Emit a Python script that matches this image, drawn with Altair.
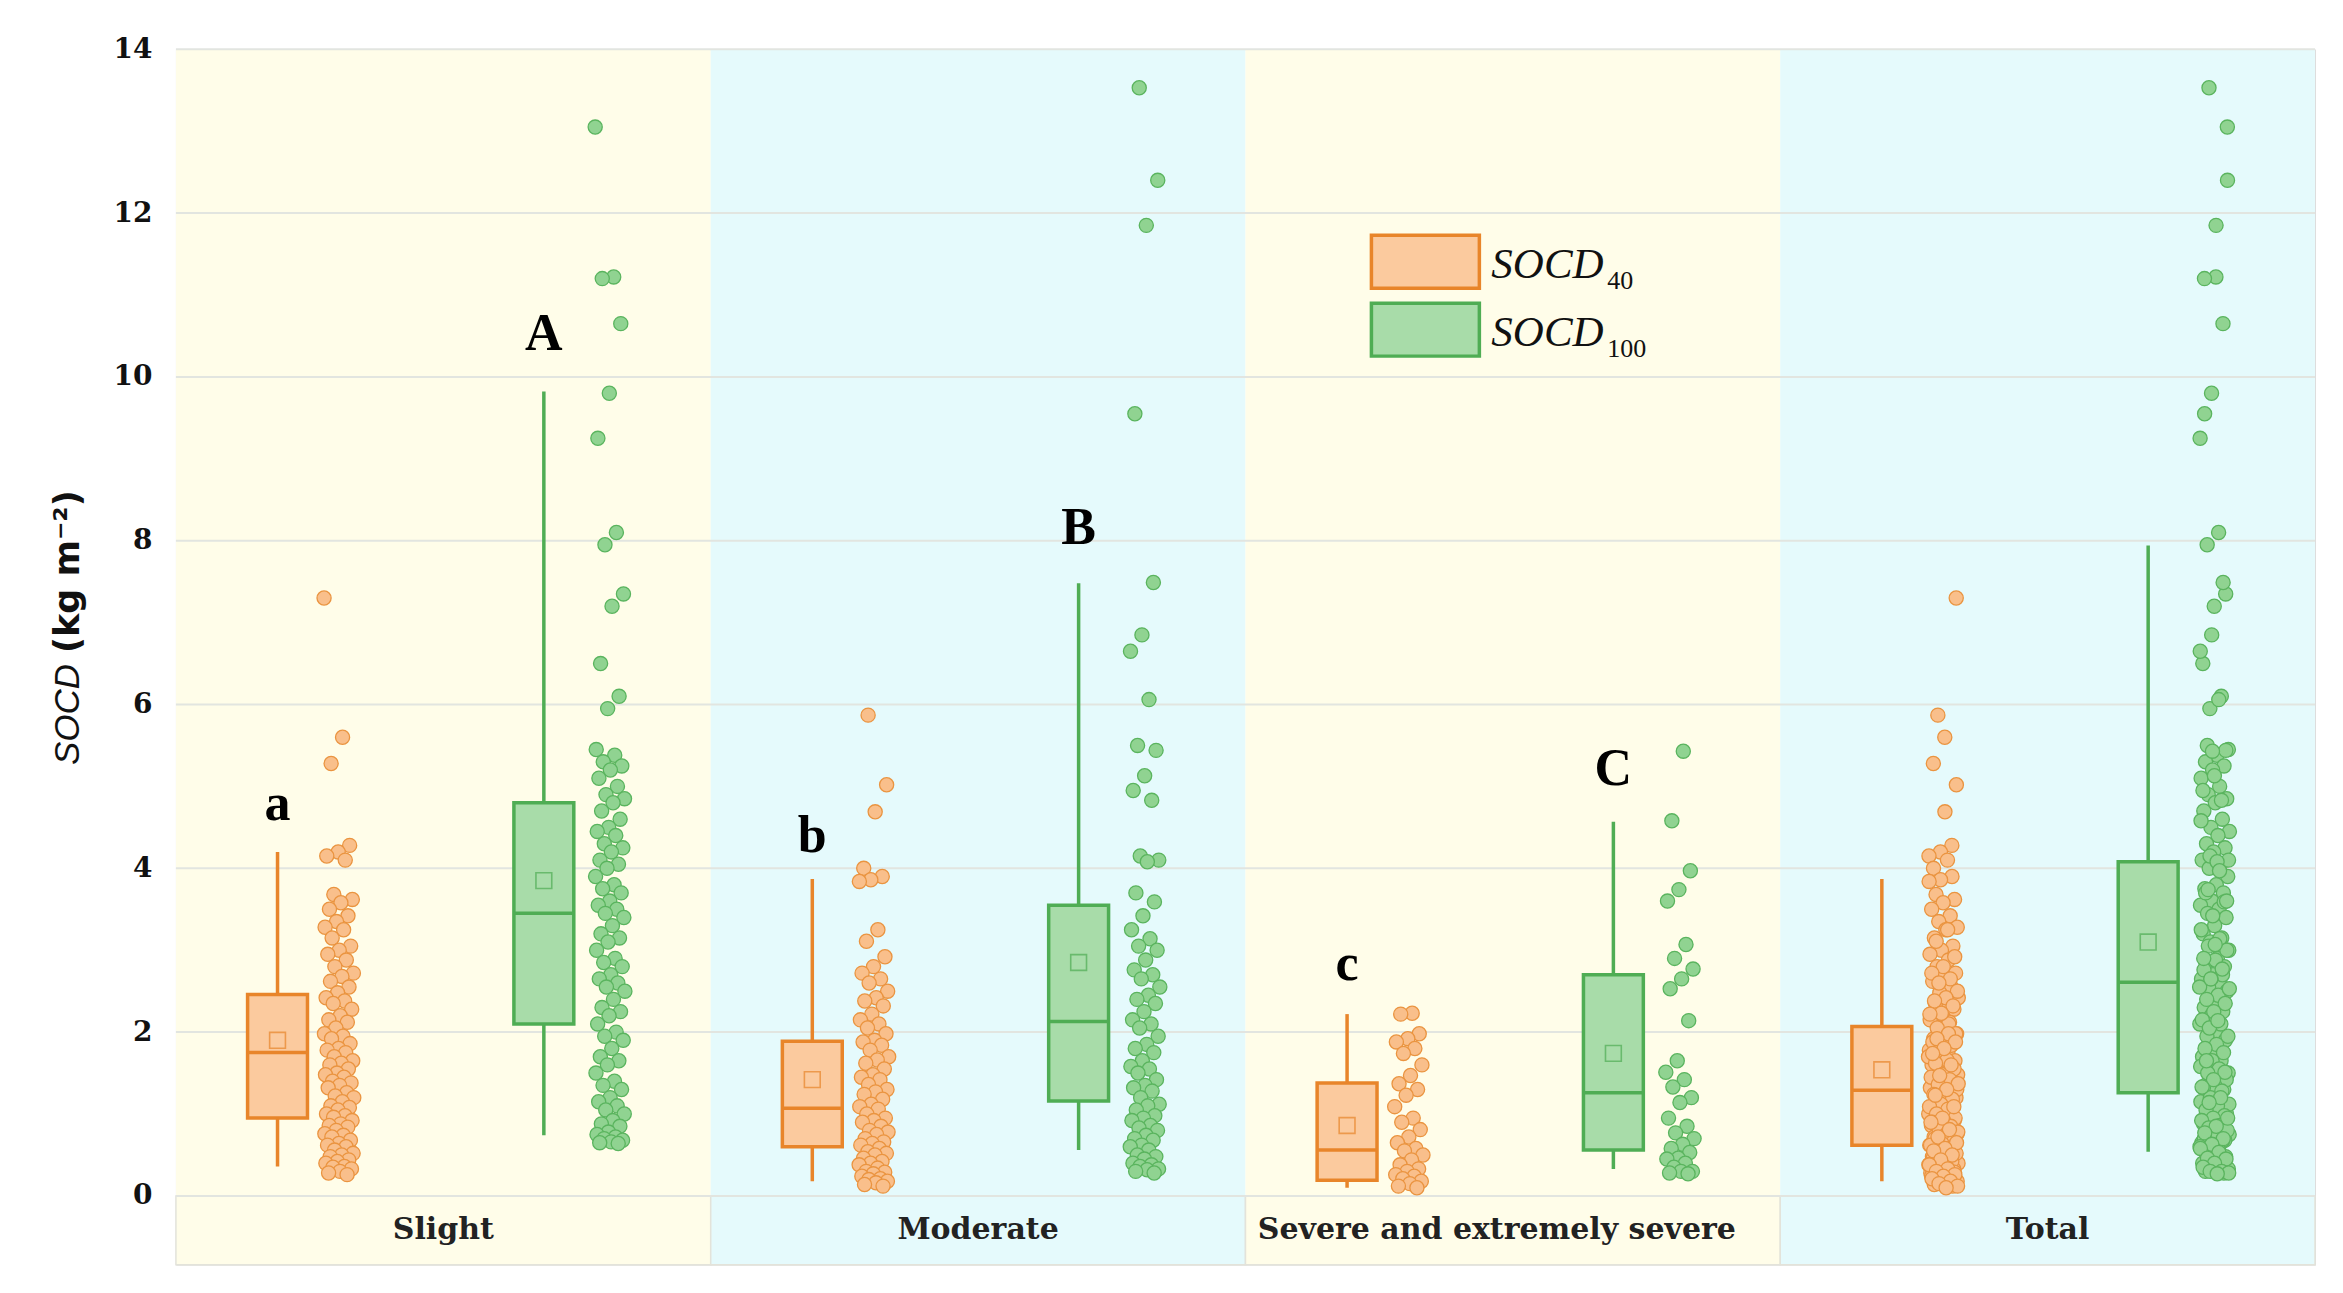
import altair as alt
import pandas as pd

# ---------------- data ----------------
panels = ["Slight", "Moderate", "Severe and extremely severe", "Total"]
series = ["SOCD40", "SOCD100"]

slight_40 = [7.3, 5.6, 5.28, 4.28, 4.2, 4.15, 4.1, 3.68, 3.62, 3.58, 3.5, 3.42, 3.35, 3.28,
             3.25, 3.15, 3.05, 3.0, 2.95, 2.88, 2.8, 2.72, 2.68, 2.62, 2.55, 2.48, 2.42, 2.38,
             2.35, 2.28, 2.2, 2.15, 2.12, 2.05, 1.98, 1.95, 1.92, 1.86, 1.8, 1.78, 1.75, 1.7,
             1.65, 1.62, 1.6, 1.55, 1.5, 1.48, 1.45, 1.4, 1.38, 1.35, 1.32, 1.26, 1.22, 1.2,
             1.15, 1.1, 1.08, 1.05, 1.0, 0.98, 0.96, 0.92, 0.88, 0.86, 0.84, 0.8, 0.76, 0.74,
             0.72, 0.68, 0.64, 0.62, 0.6, 0.56, 0.52, 0.5, 0.48, 0.44, 0.42, 0.4, 0.36, 0.35,
             0.33, 0.3, 0.28, 0.26]
slight_100 = [13.05, 11.22, 11.2, 10.65, 9.8, 9.25, 8.1, 7.95, 7.35, 7.2, 6.5, 6.1, 5.95,
              5.45, 5.38, 5.3, 5.25, 5.2, 5.1, 5.0, 4.9, 4.85, 4.8, 4.7, 4.6, 4.5, 4.45, 4.4,
              4.3, 4.25, 4.2, 4.1, 4.05, 4.0, 3.9, 3.8, 3.75, 3.7, 3.6, 3.55, 3.5, 3.45, 3.4,
              3.3, 3.2, 3.15, 3.1, 3.0, 2.9, 2.85, 2.8, 2.7, 2.65, 2.6, 2.55, 2.5, 2.4, 2.3,
              2.25, 2.2, 2.1, 2.0, 1.95, 1.9, 1.8, 1.7, 1.65, 1.6, 1.5, 1.4, 1.35, 1.3, 1.2,
              1.15, 1.1, 1.05, 1.0, 0.92, 0.88, 0.85, 0.78, 0.75, 0.72, 0.7, 0.68, 0.66, 0.65,
              0.64]
moderate_40 = [5.87, 5.02, 4.69, 4.0, 3.9, 3.86, 3.84, 3.25, 3.11, 2.92, 2.8, 2.72, 2.65, 2.6,
               2.5, 2.42, 2.38, 2.32, 2.22, 2.15, 2.1, 2.05, 1.98, 1.9, 1.88, 1.84, 1.78, 1.7,
               1.66, 1.62, 1.55, 1.48, 1.45, 1.42, 1.36, 1.3, 1.27, 1.24, 1.18, 1.12, 1.09,
               1.06, 1.0, 0.95, 0.92, 0.9, 0.85, 0.8, 0.78, 0.75, 0.7, 0.66, 0.64, 0.62, 0.58,
               0.54, 0.52, 0.5, 0.46, 0.42, 0.4, 0.38, 0.34, 0.3, 0.29, 0.27, 0.24, 0.21, 0.2,
               0.18, 0.16, 0.14, 0.12]
moderate_100 = [13.53, 12.4, 11.85, 9.55, 7.49, 6.85, 6.65, 6.06, 5.5, 5.44, 5.13, 4.95, 4.83,
                4.15, 4.1, 4.08, 3.7, 3.59, 3.42, 3.25, 3.14, 3.05, 3.0, 2.88, 2.76, 2.7, 2.65,
                2.55, 2.45, 2.4, 2.35, 2.25, 2.15, 2.1, 2.05, 1.95, 1.85, 1.8, 1.75, 1.65, 1.58,
                1.55, 1.5, 1.42, 1.35, 1.32, 1.28, 1.2, 1.12, 1.1, 1.05, 0.98, 0.95, 0.92, 0.86,
                0.83, 0.8, 0.74, 0.7, 0.68, 0.62, 0.6, 0.56, 0.5, 0.48, 0.45, 0.4, 0.38, 0.36,
                0.33, 0.32, 0.3, 0.28]
severe_40 = [2.23, 2.22, 1.98, 1.92, 1.88, 1.8, 1.74, 1.6, 1.47, 1.37, 1.3, 1.23, 1.09, 0.95,
             0.9, 0.81, 0.72, 0.65, 0.58, 0.55, 0.5, 0.44, 0.38, 0.33, 0.3, 0.26, 0.24, 0.21,
             0.18, 0.15, 0.12, 0.1]
severe_100 = [5.43, 4.58, 3.97, 3.74, 3.6, 3.07, 2.9, 2.77, 2.65, 2.53, 2.14, 1.65, 1.51, 1.42,
              1.33, 1.2, 1.14, 0.95, 0.85, 0.77, 0.7, 0.63, 0.58, 0.53, 0.46, 0.45, 0.4, 0.35,
              0.3, 0.3, 0.28, 0.27]
# "Total" is every sample of the three classes together
total_40 = slight_40 + moderate_40 + severe_40
total_100 = slight_100 + moderate_100 + severe_100

# box statistics per panel (Slight, Moderate, Severe, Total)
whisker_low_40 = [0.36, 0.18, 0.10, 0.18]
q1_40 = [0.95, 0.60, 0.19, 0.62]
median_40 = [1.75, 1.07, 0.56, 1.29]
q3_40 = [2.46, 1.89, 1.38, 2.07]
whisker_high_40 = [4.20, 3.87, 2.22, 3.87]
mean_40 = [1.90, 1.42, 0.86, 1.54]

whisker_low_100 = [0.74, 0.56, 0.33, 0.54]
q1_100 = [2.10, 1.16, 0.56, 1.26]
median_100 = [3.45, 2.13, 1.26, 2.61]
q3_100 = [4.80, 3.55, 2.70, 4.08]
whisker_high_100 = [9.82, 7.48, 4.57, 7.94]
mean_100 = [3.85, 2.85, 1.74, 3.10]

letters_40 = ["a", "b", "c", ""]
letters_100 = ["A", "B", "C", ""]
letter_y_40 = [4.59, 4.20, 2.64, 0]
letter_y_100 = [10.33, 7.96, 5.02, 0]

y_ticks = [0, 2, 4, 6, 8, 10, 12, 14]

# ---------------- styling ----------------
BG = ["#FFFDE9", "#E5FAFC", "#FFFDE9", "#E5FAFC"]
STROKE = {"SOCD40": "#E8852A", "SOCD100": "#4FAD54"}
FILL = {"SOCD40": "#FBCA9E", "SOCD100": "#A8DCA9"}
PFILL = {"SOCD40": "#F9BF8B", "SOCD100": "#90D391"}
PSTROKE = {"SOCD40": "#EA9440", "SOCD100": "#5AB45E"}
BOX_POS = {"SOCD40": 0.19, "SOCD100": 0.688}
PTS_POS = {"SOCD40": 0.305, "SOCD100": 0.812}
LABEL_POS = [0.5, 1.5, 2.47, 3.5]
HALF_BOX = 0.056
W, H = 2140, 1216
YMIN = -0.84

# ---------------- tables ----------------
vals = [(slight_40, slight_100), (moderate_40, moderate_100),
        (severe_40, severe_100), (total_40, total_100)]
pts = []
for p, (a40, a100) in enumerate(vals):
    for s, arr in zip(series, (a40, a100)):
        for k, v in enumerate(arr):
            pts.append(dict(panel=p, series=s, value=v, k=k,
                            base=p + PTS_POS[s], fill=PFILL[s], stroke=PSTROKE[s]))
pts_df = pd.DataFrame(pts)

boxes = []
stats40 = zip(whisker_low_40, q1_40, median_40, q3_40, whisker_high_40, mean_40, letters_40, letter_y_40)
stats100 = zip(whisker_low_100, q1_100, median_100, q3_100, whisker_high_100, mean_100, letters_100, letter_y_100)
for p, (s40, s100) in enumerate(zip(stats40, stats100)):
    for s, st in zip(series, (s40, s100)):
        xc = p + BOX_POS[s]
        boxes.append(dict(panel=p, series=s, xc=xc, xl=xc - HALF_BOX, xr=xc + HALF_BOX,
                          wlo=st[0], q1=st[1], med=st[2], q3=st[3], whi=st[4], mean=st[5],
                          letter=st[6], ly=st[7], stroke=STROKE[s], fill=FILL[s]))
box_df = pd.DataFrame(boxes)

panel_df = pd.DataFrame(dict(name=panels, x0=[i for i in range(4)], x1=[i + 1 for i in range(4)],
                             xm=LABEL_POS, bg=BG,
                             ylo=[YMIN] * 4, yhi=[14] * 4, yb=[0] * 4))
grid_df = pd.DataFrame(dict(v=y_ticks))

xs = alt.Scale(domain=[0, 4], nice=False, zero=False)
ys = alt.Scale(domain=[YMIN, 14], nice=False, zero=False)

bg = alt.Chart(panel_df).mark_rect().encode(
    x=alt.X("x0:Q", scale=xs, axis=None), x2="x1:Q",
    y=alt.Y("ylo:Q", scale=ys,
            axis=alt.Axis(values=y_ticks, format="d", grid=False, ticks=False, domain=False,
                          title=None, labelFont="DejaVu Serif", labelFontWeight="bold",
                          labelFontSize=28, labelColor="#111111", labelPadding=24)),
    y2="yhi:Q",
    fill=alt.Fill("bg:N", scale=None))

band = alt.Chart(panel_df).mark_rect(stroke="#E3E3DA", strokeWidth=1.5).encode(
    x="x0:Q", x2="x1:Q", y="ylo:Q", y2="yb:Q", fill=alt.Fill("bg:N", scale=None))

grid = alt.Chart(grid_df).mark_rule(stroke="#E2E5E0", strokeWidth=2).encode(
    y="v:Q", x=alt.datum(0), x2=alt.datum(4))

whisk = alt.Chart(box_df).mark_rule(strokeWidth=3.5).encode(
    x="xc:Q", y="wlo:Q", y2="whi:Q", color=alt.Color("stroke:N", scale=None))

box = alt.Chart(box_df).mark_rect(strokeWidth=3.5).encode(
    x="xl:Q", x2="xr:Q", y="q1:Q", y2="q3:Q",
    fill=alt.Fill("fill:N", scale=None), stroke=alt.Stroke("stroke:N", scale=None))

med = alt.Chart(box_df).mark_rule(strokeWidth=3.5).encode(
    x="xl:Q", x2="xr:Q", y="med:Q", color=alt.Color("stroke:N", scale=None))

mean = alt.Chart(box_df).mark_point(shape="square", size=250, filled=False, strokeWidth=1.6).encode(
    x="xc:Q", y="mean:Q", color=alt.Color("stroke:N", scale=None))

points = alt.Chart(pts_df).transform_calculate(
    xj="datum.base + ((datum.k * 0.6180339887 + 0.31 * datum.panel) % 1 - 0.5) * 0.056"
).mark_circle(size=200, strokeWidth=1.3, opacity=1).encode(
    x="xj:Q", y="value:Q",
    fill=alt.Fill("fill:N", scale=None), stroke=alt.Stroke("stroke:N", scale=None))

letters = alt.Chart(box_df).transform_filter("datum.letter != ''").mark_text(
    font="Liberation Serif", fontWeight="bold", fontSize=52, baseline="alphabetic",
    color="#000000").encode(x="xc:Q", y="ly:Q", text="letter:N")

cats = alt.Chart(panel_df).mark_text(
    font="DejaVu Serif", fontWeight="bold", fontSize=30, baseline="middle",
    color="#222222").encode(x="xm:Q", y=alt.datum(-0.42), text="name:N")

one = pd.DataFrame({"a": [0]})
leg = []
for i, s in enumerate(series):
    top = 186 + i * 68
    leg.append(alt.Chart(one).mark_rect(fill=FILL[s], stroke=STROKE[s], strokeWidth=3.5).encode(
        x=alt.value(1196), x2=alt.value(1304), y=alt.value(top), y2=alt.value(top + 53)))
    leg.append(alt.Chart(one).mark_text(font="Liberation Serif", fontStyle="italic", fontSize=43,
                                        align="left", baseline="alphabetic", color="#111111").encode(
        x=alt.value(1316), y=alt.value(top + 43), text=alt.value("SOCD")))
    leg.append(alt.Chart(one).mark_text(font="Liberation Serif", fontSize=26,
                                        align="left", baseline="alphabetic", color="#111111").encode(
        x=alt.value(1432), y=alt.value(top + 54), text=alt.value(s.replace("SOCD", ""))))

ytitle = [
    alt.Chart(one).mark_text(font="Liberation Sans", fontStyle="italic", fontSize=35, angle=270,
                             align="right", baseline="middle", color="#111111").encode(
        x=alt.value(-108), y=alt.value(615), text=alt.value("SOCD")),
    alt.Chart(one).mark_text(font="DejaVu Sans", fontWeight="bold", fontSize=35, angle=270,
                             align="left", baseline="middle", color="#111111").encode(
        x=alt.value(-108), y=alt.value(604), text=alt.value("(kg m⁻²)")),
]

chart = alt.layer(bg, band, grid, whisk, box, med, mean, points, letters, cats, *leg, *ytitle).properties(
    width=W, height=H, autosize="none",
    padding={"left": 168, "top": 41, "right": 20, "bottom": 20},
).configure_view(stroke=None).configure(background="white")

chart.save("out.html", embed_options={"renderer": "svg", "actions": False})
